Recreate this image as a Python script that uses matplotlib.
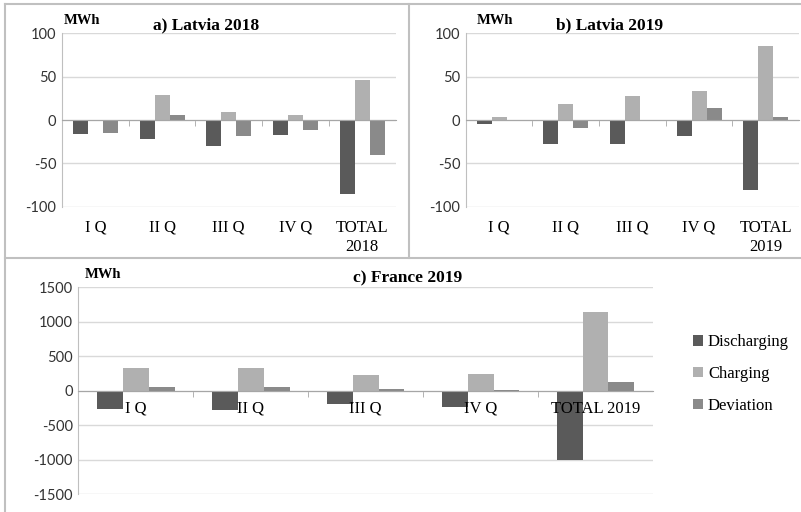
import matplotlib
matplotlib.use("Agg")
import matplotlib.pyplot as plt
from matplotlib.lines import Line2D
import numpy as np

plt.rcParams["axes.unicode_minus"] = False

# dane
kwartaly = ["I Q", "II Q", "III Q", "IV Q"]
serie = ["Discharging", "Charging", "Deviation"]

lv18_discharging = [-16, -22, -30, -17, -85]
lv18_charging = [0, 29, 9, 6, 46]
lv18_deviation = [-15, 6, -19, -11, -40]

lv19_discharging = [-5, -28, -28, -19, -81]
lv19_charging = [4, 19, 28, 33, 85]
lv19_deviation = [-1, -9, 0, 14, 4]

fr19_discharging = [-270, -285, -200, -240, -1000]
fr19_charging = [325, 335, 230, 245, 1140]
fr19_deviation = [58, 53, 25, 10, 130]

kolory = ["#5a5a5a", "#b0b0b0", "#8a8a8a"]
W, H = 801, 512

fig = plt.figure(figsize=(W / 100, H / 100), dpi=100)


def osie(x0, x1, y_top, y_bot):
    # osie w pikselach obrazka
    return fig.add_axes([x0 / W, 1 - y_bot / H, (x1 - x0) / W, (y_bot - y_top) / H])


def panel(ax, dane, ylim, kroki, n):
    x = np.arange(n)
    w = 0.225
    for j, wartosci in enumerate(dane):
        ax.bar(x + (j - 1) * w, wartosci, w, color=kolory[j], label=serie[j], zorder=3)
    ax.set_xlim(-0.5, n - 0.5)
    ax.set_ylim(*ylim)
    ax.set_yticks(kroki)
    ax.yaxis.grid(True, color="#d9d9d9", lw=1, zorder=0)
    for s in ["top", "right"]:
        ax.spines[s].set_visible(False)
    ax.spines["left"].set_color("#bfbfbf")
    ax.spines["bottom"].set_position(("data", 0))
    ax.spines["bottom"].set_color("#a6a6a6")
    ax.spines["bottom"].set_zorder(4)
    ax.set_xticks(x)
    ax.set_xticklabels([])
    ax.set_xticks(np.arange(1, n) - 0.5, minor=True)
    ax.tick_params(axis="x", which="minor", length=4, color="#a6a6a6", direction="out")
    ax.tick_params(axis="x", which="major", length=0)
    ax.tick_params(axis="y", length=0, pad=4)
    for t in ax.get_yticklabels():
        t.set_fontfamily("Lato")
        t.set_fontsize(10.5)
        t.set_color("#333333")
    return x


# Panel a
etyk_a = kwartaly + ["TOTAL\n2018"]
ax_a = osie(62, 395.5, 33.3, 206.7)
x = panel(ax_a, [lv18_discharging, lv18_charging, lv18_deviation], (-100, 100),
          [-100, -50, 0, 50, 100], len(etyk_a))
for i, lab in enumerate(etyk_a):
    ax_a.text(i, -0.075, lab, transform=ax_a.get_xaxis_transform(), ha="center", va="top",
              family="Liberation Serif", fontsize=12, linespacing=1.3)
fig.text(82 / W, 1 - 20 / H, "MWh", family="Liberation Serif", weight="bold", fontsize=10.5,
         ha="center", va="center")
fig.text(206 / W, 1 - 25 / H, "a) Latvia 2018", family="Liberation Serif", weight="bold",
         fontsize=12.5, ha="center", va="center")

# Panel b
etyk_b = kwartaly + ["TOTAL\n2019"]
ax_b = osie(465.7, 799, 33.3, 206.7)
x = panel(ax_b, [lv19_discharging, lv19_charging, lv19_deviation], (-100, 100),
          [-100, -50, 0, 50, 100], len(etyk_b))
for i, lab in enumerate(etyk_b):
    ax_b.text(i, -0.075, lab, transform=ax_b.get_xaxis_transform(), ha="center", va="top",
              family="Liberation Serif", fontsize=12, linespacing=1.3)
fig.text(495 / W, 1 - 20 / H, "MWh", family="Liberation Serif", weight="bold", fontsize=10.5,
         ha="center", va="center")
fig.text(610 / W, 1 - 25 / H, "b) Latvia 2019", family="Liberation Serif", weight="bold",
         fontsize=12.5, ha="center", va="center")

# Panel c
etyk_c = kwartaly + ["TOTAL 2019"]
ax_c = osie(78.3, 653, 287.3, 494)
x = panel(ax_c, [fr19_discharging, fr19_charging, fr19_deviation], (-1500, 1500),
          [-1500, -1000, -500, 0, 500, 1000, 1500], len(etyk_c))
for i, lab in enumerate(etyk_c):
    ax_c.text(i, -150, lab, ha="center", va="top", family="Liberation Serif",
              fontsize=12, zorder=6)
fig.text(103 / W, 1 - 274 / H, "MWh", family="Liberation Serif", weight="bold", fontsize=10.5,
         ha="center", va="center")
fig.text(408 / W, 1 - 278 / H, "c) France 2019", family="Liberation Serif", weight="bold",
         fontsize=12.5, ha="center", va="center")
fig.legend(*ax_c.get_legend_handles_labels(), loc="center left",
           bbox_to_anchor=(678 / W, 1 - 374 / H), frameon=False,
           prop={"family": "Liberation Serif", "size": 12},
           handlelength=0.6, handleheight=0.6, handletextpad=0.3, labelspacing=0.95)

# ramki
szary = "#c0c0c0"
fig.add_artist(Line2D([5 / W, 1], [1 - 4 / H, 1 - 4 / H], color=szary, lw=1.5))
fig.add_artist(Line2D([5 / W, 5 / W], [1 - 4 / H, 0], color=szary, lw=1.5))
fig.add_artist(Line2D([409 / W, 409 / W], [1 - 4 / H, 1 - 258 / H], color=szary, lw=1.5))
fig.add_artist(Line2D([5 / W, 1], [1 - 258 / H, 1 - 258 / H], color=szary, lw=1.5))

fig.savefig("out.png", dpi=100)
